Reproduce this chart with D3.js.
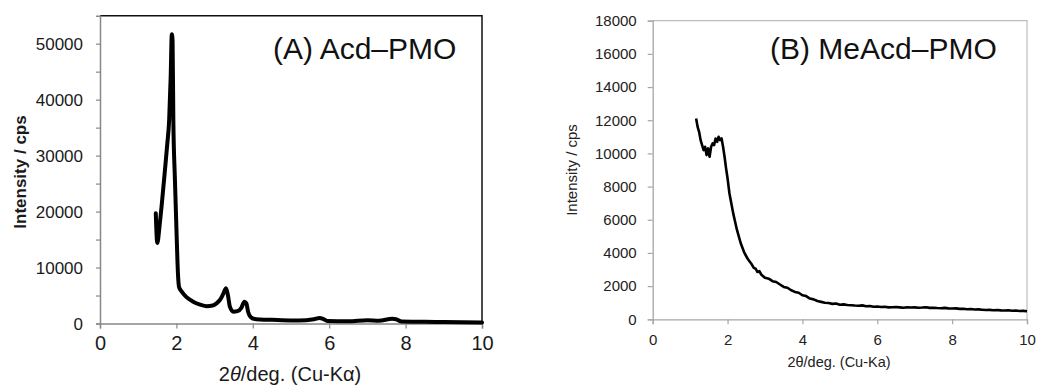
<!DOCTYPE html>
<html>
<head>
<meta charset="utf-8">
<script src="https://cdn.jsdelivr.net/npm/d3@7"></script>
<style>
  html, body { margin: 0; padding: 0; background: #fff; }
  svg { display: block; font-family: "Liberation Sans", Arial, sans-serif; }
</style>
</head>
<body>
<svg id="chart" width="1039" height="387"></svg>
<script>
// ---- Panel A: Acd–PMO small-angle XRD pattern ----
const acdTheta = [1.46, 1.50, 1.56, 1.62, 1.70, 1.76, 1.81, 1.85, 1.88, 1.90, 1.92, 1.96, 2.01, 2.04, 2.07, 2.14,
  2.25, 2.44, 2.60, 2.79, 2.95, 3.05, 3.15, 3.22, 3.30, 3.35, 3.40, 3.49, 3.60, 3.70, 3.78, 3.83, 3.88, 3.94,
  4.05, 4.20, 4.5, 5.0, 5.4, 5.6, 5.75, 5.85, 5.95, 6.5, 7.0, 7.3, 7.65, 7.75, 7.9, 8.5, 9.0, 10.0];
const acdIntensity = [19700, 14400, 17500, 21500, 27400, 32000, 36300, 44000, 51700, 50500, 36300, 26000, 14900, 9000, 6500, 5700,
  4800, 3900, 3400, 3100, 3200, 3600, 4300, 5200, 6300, 5000, 3000, 2100, 2200, 2800, 3900, 3600, 2000, 1200,
  800, 720, 650, 550, 600, 750, 1000, 800, 450, 400, 600, 500, 850, 750, 350, 300, 250, 200];
const acdYTicks = [0, 5000, 10000, 15000, 20000, 25000, 30000, 35000, 40000, 45000, 50000];
const acdYLabels = [0, 10000, 20000, 30000, 40000, 50000];
const acdXTicks = [0, 2, 4, 6, 8, 10];

// ---- Panel B: MeAcd–PMO small-angle XRD pattern ----
const meTheta = [1.16, 1.20, 1.24, 1.28, 1.32, 1.36, 1.40, 1.44, 1.48, 1.52, 1.56, 1.60, 1.64, 1.68, 1.72, 1.76, 1.80,
  1.84, 1.88, 1.92, 1.96, 2.00, 2.05, 2.10, 2.15, 2.20, 2.25, 2.30, 2.35, 2.40, 2.45, 2.50, 2.55, 2.60, 2.65, 2.70,
  2.75, 2.80, 2.85, 2.90, 2.95, 3.0, 3.1, 3.2, 3.3, 3.4, 3.5, 3.6, 3.7, 3.8, 3.9, 4.0, 4.1, 4.2, 4.3, 4.4, 4.5,
  4.6, 4.7, 4.8, 4.9, 5.0, 5.1, 5.2, 5.3, 5.4, 5.5, 5.6, 5.7, 5.8, 5.9, 6.0, 6.1, 6.2, 6.3, 6.4, 6.5, 6.6, 6.7,
  6.8, 6.9, 7.0, 7.1, 7.2, 7.3, 7.4, 7.5, 7.6, 7.7, 7.8, 7.9, 8.0, 8.1, 8.2, 8.3, 8.4, 8.5, 8.6, 8.7, 8.8, 8.9,
  9.0, 9.1, 9.2, 9.3, 9.4, 9.5, 9.6, 9.7, 9.8, 9.9, 10.0];
const meIntensity = [12100, 11600, 11300, 10800, 10500, 10200, 10400, 9900, 10300, 9800, 10400, 10600, 10500, 10900, 10700, 11000, 10800,
  10900, 10400, 9800, 9100, 8500, 7600, 7000, 6400, 5900, 5400, 5000, 4600, 4300, 4000, 3800, 3600, 3450, 3300, 3100,
  3050, 2850, 2900, 2700, 2600, 2500, 2450, 2300, 2250, 2100, 1950, 1900, 1750, 1650, 1600, 1450, 1400, 1250, 1200, 1100, 1050,
  1000, 980, 930, 950, 880, 900, 860, 850, 830, 820, 840, 790, 800, 760, 770, 740, 760, 720, 730, 740, 720, 700,
  730, 710, 720, 700, 710, 730, 690, 700, 680, 670, 690, 660, 650, 660, 630, 640, 610, 620, 590, 600, 580, 560,
  570, 550, 560, 540, 530, 550, 520, 530, 500, 510, 490];
const meYTicks = [0, 2000, 4000, 6000, 8000, 10000, 12000, 14000, 16000, 18000];
const meXTicks = [0, 2, 4, 6, 8, 10];

const svg = d3.select("#chart");

// ================= Panel A =================
{
  const x = d3.scaleLinear().domain([0, 10]).range([100, 482]);
  const y = d3.scaleLinear().domain([0, 55000]).range([323.5, 15.7]);
  const g = svg.append("g");
  const axisColor = "#888";
  const textColor = "#1a1a1a";

  // plot area frame: top and right edges
  g.append("path")
    .attr("d", `M${x(0)},${y(55000)}H${x(10)}V${y(0)}`)
    .attr("fill", "none").attr("stroke", "#111").attr("stroke-width", 1.5);

  // y axis
  const yAxis = g.append("g").attr("transform", `translate(${x(0)},0)`)
    .call(d3.axisLeft(y).tickValues(acdYTicks).tickSize(4).tickFormat(""));
  yAxis.select(".domain").attr("stroke", axisColor).attr("stroke-width", 1.5);
  yAxis.selectAll(".tick line").attr("stroke", axisColor).attr("stroke-width", 1.2);
  g.selectAll(".ylabA").data(acdYLabels).join("text")
    .attr("x", 83).attr("y", d => y(d)).attr("dy", "0.36em")
    .attr("text-anchor", "end").attr("font-size", 17).attr("fill", textColor)
    .text(d => d);

  // x axis
  const xAxis = g.append("g").attr("transform", `translate(0,${y(0)})`)
    .call(d3.axisBottom(x).tickValues(acdXTicks).tickSize(5).tickPadding(7).tickFormat(d3.format("d")));
  xAxis.select(".domain").attr("stroke", axisColor).attr("stroke-width", 1.5);
  xAxis.selectAll(".tick line").attr("stroke", axisColor).attr("stroke-width", 1.2);
  xAxis.selectAll(".tick text").attr("font-size", 20).attr("fill", textColor)
    .attr("font-family", "Liberation Sans, Arial, sans-serif");

  // data line
  const line = d3.line().x((d, i) => x(acdTheta[i])).y(d => y(d)).curve(d3.curveMonotoneX);
  g.append("path").datum(acdIntensity)
    .attr("d", line).attr("fill", "none").attr("stroke", "#000")
    .attr("stroke-width", 4).attr("stroke-linejoin", "round").attr("stroke-linecap", "round");

  // titles
  const xt = g.append("text").attr("x", 290).attr("y", 381).attr("text-anchor", "middle")
    .attr("font-size", 20).attr("fill", textColor);
  xt.append("tspan").text("2");
  xt.append("tspan").attr("font-style", "italic").text("θ");
  xt.append("tspan").text("/deg.  (Cu-Kα)");

  g.append("text").attr("transform", "translate(26,172) rotate(-90)")
    .attr("text-anchor", "middle").attr("font-size", 17).attr("font-weight", "bold")
    .attr("fill", textColor).text("Intensity / cps");

  g.append("text").attr("x", 273).attr("y", 59).attr("font-size", 30)
    .attr("fill", "#111").text("(A) Acd–PMO");
}

// ================= Panel B =================
{
  const x = d3.scaleLinear().domain([0, 10]).range([652.7, 1027]);
  const y = d3.scaleLinear().domain([0, 18000]).range([319.3, 20.7]);
  const g = svg.append("g");
  const axisColor = "#a6a6a6";
  const textColor = "#222";

  // plot area frame
  g.append("path")
    .attr("d", `M${x(0)},${y(18000)}H${x(10)}V${y(0)}`)
    .attr("fill", "none").attr("stroke", "#bdbdbd").attr("stroke-width", 1.2);

  const yAxis = g.append("g").attr("transform", `translate(${x(0)},0)`)
    .call(d3.axisLeft(y).tickValues(meYTicks).tickSize(5).tickPadding(11).tickFormat(d3.format("d")));
  yAxis.select(".domain").attr("stroke", axisColor).attr("stroke-width", 1.3);
  yAxis.selectAll(".tick line").attr("stroke", axisColor).attr("stroke-width", 1.2);
  yAxis.selectAll(".tick text").attr("font-size", 15).attr("fill", textColor)
    .attr("font-family", "Liberation Sans, Arial, sans-serif");

  const xAxis = g.append("g").attr("transform", `translate(0,${y(0)})`)
    .call(d3.axisBottom(x).tickValues(meXTicks).tickSize(5).tickPadding(10).tickFormat(d3.format("d")));
  xAxis.select(".domain").attr("stroke", axisColor).attr("stroke-width", 1.3);
  xAxis.selectAll(".tick line").attr("stroke", axisColor).attr("stroke-width", 1.2);
  xAxis.selectAll(".tick text").attr("font-size", 15).attr("fill", textColor)
    .attr("font-family", "Liberation Sans, Arial, sans-serif");

  const line = d3.line().x((d, i) => x(meTheta[i])).y(d => y(d));
  g.append("path").datum(meIntensity)
    .attr("d", line).attr("fill", "none").attr("stroke", "#000")
    .attr("stroke-width", 2.6).attr("stroke-linejoin", "round");

  g.append("text").attr("x", 839).attr("y", 367).attr("text-anchor", "middle")
    .attr("font-size", 14.5).attr("fill", textColor).text("2θ/deg. (Cu-Ka)");

  g.append("text").attr("transform", "translate(577,170) rotate(-90)")
    .attr("text-anchor", "middle").attr("font-size", 15)
    .attr("fill", textColor).text("Intensity / cps");

  g.append("text").attr("x", 770).attr("y", 59).attr("font-size", 30)
    .attr("fill", "#111").text("(B) MeAcd–PMO");
}
</script>
</body>
</html>
